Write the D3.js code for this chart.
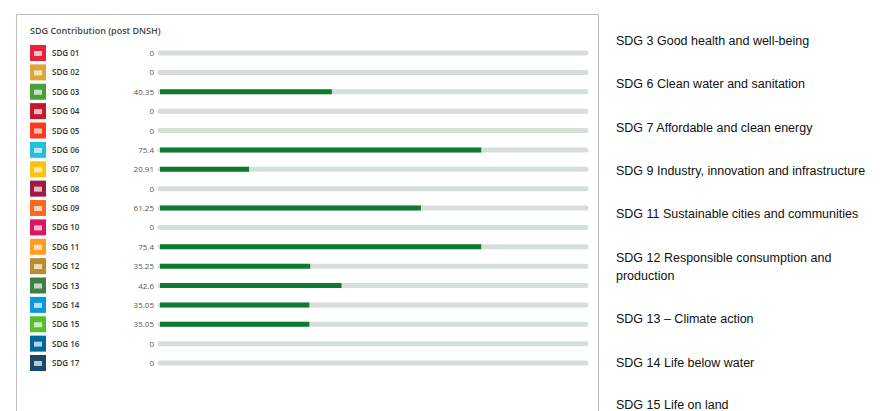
<!DOCTYPE html>
<html>
<head>
<meta charset="utf-8">
<script src="https://cdn.jsdelivr.net/npm/d3@7"></script>
<style>
  body { margin: 0; background: #fff; }
</style>
</head>
<body>
<svg id="chart" width="891" height="411"></svg>
<script>
// data
const sdgLabels = ["SDG 01","SDG 02","SDG 03","SDG 04","SDG 05","SDG 06","SDG 07","SDG 08","SDG 09",
  "SDG 10","SDG 11","SDG 12","SDG 13","SDG 14","SDG 15","SDG 16","SDG 17"];
const valueText = ["0","0","40.35","0","0","75.4","20.91","0","61.25","0","75.4","35.25","42.6","35.05","35.05","0","0"];
const values = [0,0,40.35,0,0,75.4,20.91,0,61.25,0,75.4,35.25,42.6,35.05,35.05,0,0];
const iconColors = ["#E5243B","#DDA63A","#4C9F38","#C5192D","#FF3A21","#26BDE2","#FCC30B","#A21942","#FD6925",
  "#DD1367","#FD9D24","#BF8B2E","#3F7E44","#0A97D9","#56C02B","#00689D","#19486A"];
const notes = [
  ["SDG 3 Good health and well-being"],
  ["SDG 6 Clean water and sanitation"],
  ["SDG 7 Affordable and clean energy"],
  ["SDG 9 Industry, innovation and infrastructure"],
  ["SDG 11 Sustainable cities and communities"],
  ["SDG 12 Responsible consumption and", "production"],
  ["SDG 13 \u2013 Climate action"],
  ["SDG 14 Life below water"],
  ["SDG 15 Life on land"]
];

const svg = d3.select("#chart");

// panel
svg.append("path")
  .attr("d", "M16.5,411 V14.5 H598.5 V411")
  .attr("fill", "none").attr("stroke", "#bdbdbd").attr("stroke-width", 1);

svg.append("text")
  .attr("x", 30).attr("y", 34)
  .style("font", "600 9px 'Open Sans', sans-serif").attr("fill", "#444")
  .text("SDG Contribution (post DNSH)");

var x = d3.scaleLinear().domain([0, 100]).range([160, 586]);
var y = d3.scalePoint().domain(sdgLabels).range([53, 363]);

var row = svg.selectAll("g.row").data(sdgLabels).enter()
  .append("g").attr("class", "row")
  .attr("transform", d => "translate(0," + y(d) + ")");

row.append("rect")
  .attr("x", 30).attr("y", -8).attr("width", 16).attr("height", 16)
  .attr("fill", (d, i) => iconColors[i]);

row.append("rect")
  .attr("x", 34).attr("y", -2).attr("width", 8).attr("height", 5)
  .attr("fill", "#fff").attr("opacity", 0.7);

row.append("text")
  .attr("x", 52).attr("y", 3)
  .style("font", "600 8px 'Open Sans', sans-serif").attr("fill", "#333")
  .text(d => d);

row.append("text")
  .attr("x", 154).attr("y", 3).attr("text-anchor", "end")
  .style("font", "8px 'Open Sans', sans-serif").attr("fill", "#555")
  .text((d, i) => valueText[i]);

row.append("line")
  .attr("x1", x(0)).attr("x2", x(100))
  .attr("stroke", "#d6ded8").attr("stroke-width", 5).attr("stroke-linecap", "round");

row.filter((d, i) => values[i] > 0).append("line")
  .attr("x1", x(0)).attr("x2", d => x(values[sdgLabels.indexOf(d)]))
  .attr("stroke", "#0d7a2f").attr("stroke-width", 5).attr("stroke-linecap", "butt");

// right-hand list
var noteY = [41, 84, 128, 171, 214, 258, 319, 363, 405];
notes.forEach(function(lines, i) {
  var t = svg.append("text")
    .attr("x", 616).attr("y", noteY[i] + 4)
    .style("font", "12.5px 'Liberation Sans', Arial, sans-serif").attr("fill", "#111");
  lines.forEach(function(l, j) {
    t.append("tspan").attr("x", 616).attr("dy", j ? 18 : 0).text(l);
  });
});
</script>
</body>
</html>
